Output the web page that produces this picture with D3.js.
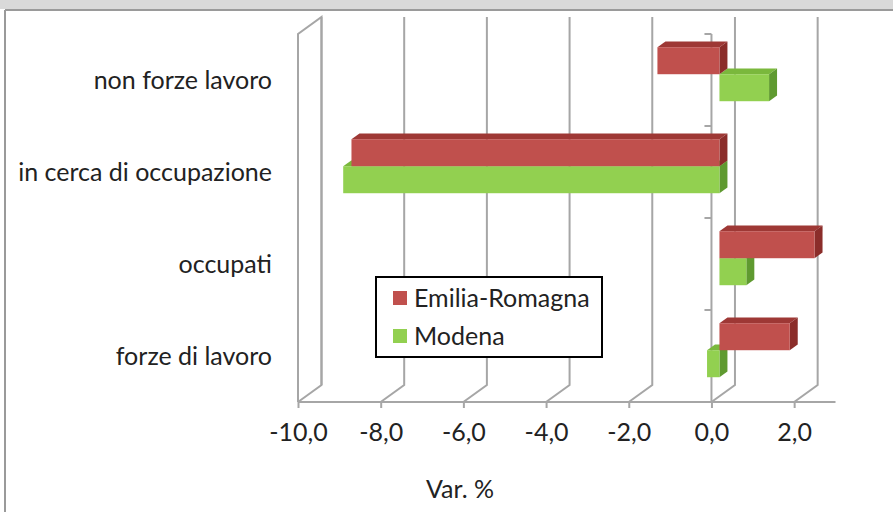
<!DOCTYPE html>
<meta charset="utf-8">
<style>
body { margin: 0; background: #fff; }
svg { display: block; font-family: Lato, "Noto Sans", sans-serif; }
.grid line, .grid path { stroke: #a6a6a6; stroke-width: 2; fill: none; }
</style>
<svg width="893" height="512"></svg>
<script src="https://cdn.jsdelivr.net/npm/d3@7"></script>
<script>

var categories = ["non forze lavoro", "in cerca di occupazione", "occupati", "forze di lavoro"];
var series = ["Emilia-Romagna", "Modena"];
var emiliaRomagna = [-1.5, -8.9, 2.3, 1.7];
var modena = [1.2, -9.1, 0.65, -0.3];
var xTicks = [-10, -8, -6, -4, -2, 0, 2];

var svg = d3.select("svg");

// colori: faccia, sopra, lato
var colors = {
  "Emilia-Romagna": ["#c0504d", "#9e3835", "#8b2d2a"],
  "Modena": ["#92d050", "#7ab83c", "#5f9a30"]
};

// cornice
svg.append("rect").attr("x", 0).attr("y", 0).attr("width", 893).attr("height", 9).attr("fill", "#d9d9d9");
svg.append("line").attr("x1", 5).attr("x2", 893).attr("y1", 10).attr("y2", 10).attr("stroke", "#9a9a9a").attr("stroke-width", 2);
svg.append("line").attr("x1", 5).attr("x2", 5).attr("y1", 10).attr("y2", 512).attr("stroke", "#9a9a9a").attr("stroke-width", 2);

var x = d3.scaleLinear().domain([-10, 3]).range([298, 835.5]);
var y = d3.scaleBand().domain(categories).range([34, 402]);
var inner = d3.scaleBand().domain(series).range([-27, 27]);

// profondita' 3D
var DX = 23.5, DY = -17;
var f0 = 0.34, f1 = 0.68;

var fmt = d3.formatLocale({decimal: ",", thousands: ".", grouping: [3], currency: ["", "€"], minus: "-"}).format(".1f");

var grid = svg.append("g").attr("class", "grid");
var floorY = y.range()[1];

// parete laterale sinistra
grid.append("path").attr("d",
  "M" + x(-10) + "," + floorY + "V" + y.range()[0] +
  "L" + (x(-10) + DX) + "," + (y.range()[0] + DY) + "V" + (floorY + DY));

// griglia di fondo + diagonali del pavimento
xTicks.forEach(function(t) {
  grid.append("path").attr("d",
    "M" + x(t) + "," + floorY + "L" + (x(t) + DX) + "," + (floorY + DY) + "V" + (y.range()[0] + DY));
});

// asse x frontale
var xAxis = svg.append("g")
  .attr("transform", "translate(0," + floorY + ")")
  .call(d3.axisBottom(x).tickValues(xTicks).tickSize(6).tickPadding(15).tickFormat(fmt));
xAxis.select(".domain").attr("stroke", "#a6a6a6").attr("stroke-width", 2).attr("d", "M" + x(-10) + ",0H" + x(3));
xAxis.selectAll(".tick line").attr("stroke", "#a6a6a6").attr("stroke-width", 2);
xAxis.selectAll(".tick text").attr("font-size", 25).attr("fill", "#222").attr("font-family", "Lato, sans-serif");

// asse categorie a x=0
var yAxis = svg.append("g")
  .attr("transform", "translate(" + x(0) + ",0)");
yAxis.append("line").attr("x1", 0).attr("x2", 0).attr("y1", y.range()[0]).attr("y2", floorY)
  .attr("stroke", "#a6a6a6").attr("stroke-width", 2);
var bounds = categories.map(function(c) { return y(c); }).concat([floorY]);
yAxis.selectAll(".tk").data(bounds).enter().append("line")
  .attr("x1", -7).attr("x2", 0).attr("y1", function(d) { return d; }).attr("y2", function(d) { return d; })
  .attr("stroke", "#a6a6a6").attr("stroke-width", 2);

// etichette categorie
svg.append("g").selectAll("text").data(categories).enter().append("text")
  .attr("x", 272)
  .attr("y", function(d) { return y(d) + y.bandwidth() / 2; })
  .attr("dy", "0.35em")
  .attr("text-anchor", "end")
  .attr("font-size", 25)
  .attr("fill", "#222")
  .text(function(d) { return d; });

// barre 3D
var rows = [];
categories.forEach(function(c, i) {
  rows.push({cat: c, s: "Modena", v: modena[i]});
  rows.push({cat: c, s: "Emilia-Romagna", v: emiliaRomagna[i]});
});

var ox = DX * f0, oy = DY * f0;
var dx = DX * (f1 - f0), dy = DY * (f1 - f0);

var bars = svg.append("g").selectAll("g").data(rows).enter().append("g");
bars.each(function(d) {
  var g = d3.select(this);
  var x1 = Math.min(x(0), x(d.v)) + ox, x2 = Math.max(x(0), x(d.v)) + ox;
  var cy = y(d.cat) + y.bandwidth() / 2 + oy;
  var y1 = cy + inner(d.s), y2 = y1 + inner.bandwidth();
  var c = colors[d.s];
  g.append("path").attr("fill", c[1]).attr("d",
    "M" + x1 + "," + y1 + "L" + x2 + "," + y1 + "L" + (x2 + dx) + "," + (y1 + dy) + "L" + (x1 + dx) + "," + (y1 + dy) + "Z");
  g.append("path").attr("fill", c[2]).attr("d",
    "M" + x2 + "," + y1 + "L" + (x2 + dx) + "," + (y1 + dy) + "L" + (x2 + dx) + "," + (y2 + dy) + "L" + x2 + "," + y2 + "Z");
  g.append("rect").attr("fill", c[0]).attr("x", x1).attr("y", y1).attr("width", x2 - x1).attr("height", y2 - y1);
});

// titolo asse
svg.append("text").attr("x", 460).attr("y", 498).attr("text-anchor", "middle")
  .attr("font-size", 25).attr("fill", "#222").text("Var. %");

// legenda
var legend = svg.append("g").attr("transform", "translate(376,277)");
legend.append("rect").attr("width", 226).attr("height", 80).attr("fill", "#fff").attr("stroke", "#000").attr("stroke-width", 2);
legend.selectAll("g").data(series).enter().append("g")
  .attr("transform", function(d, i) { return "translate(17," + (14 + i * 38) + ")"; })
  .each(function(d) {
    var g = d3.select(this);
    g.append("rect").attr("width", 14).attr("height", 14).attr("fill", colors[d][0]);
    g.append("text").attr("x", 21).attr("y", 7).attr("dy", "0.35em").attr("font-size", 25).attr("fill", "#222").text(d);
  });

</script>
